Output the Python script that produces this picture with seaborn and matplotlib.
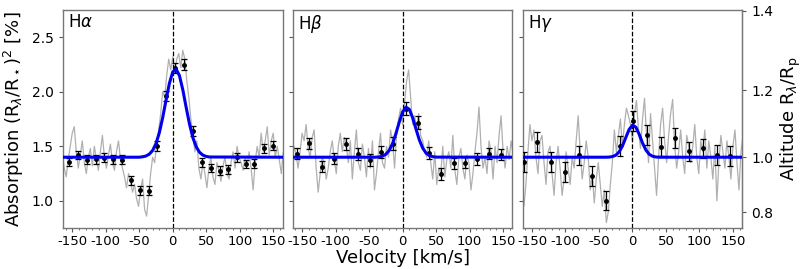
import numpy as np
import pandas as pd
import seaborn as sns
import matplotlib.pyplot as plt
from matplotlib.ticker import MultipleLocator

# ---- data ----
grid_v = np.arange(-165, 166, 3)  # velocity grid of the unbinned spectra

ha_gray = [1.45, 1.30, 1.22, 1.38, 1.50, 1.62,
           1.68, 1.45, 1.30, 1.42, 1.55, 1.35,
           1.25, 1.40, 1.48, 1.32, 1.50, 1.38,
           1.28, 1.45, 1.60, 1.40, 1.30, 1.42,
           1.52, 1.35, 1.28, 1.45, 1.55, 1.38,
           1.30, 1.22, 1.12, 1.25, 1.18, 1.08,
           1.15, 1.02, 0.95, 1.10, 1.20, 0.92,
           0.86, 1.05, 1.25, 1.40, 1.35, 1.52,
           1.65, 1.80, 2.00, 1.95, 2.15, 2.30,
           2.20, 2.32, 2.18, 2.30, 2.35, 2.22,
           2.38, 2.30, 2.10, 1.95, 1.75, 1.60,
           1.45, 1.55, 1.30, 1.20, 1.35, 1.25,
           1.12, 1.30, 1.40, 1.22, 1.15, 1.35,
           1.28, 1.18, 1.32, 1.40, 1.25, 1.20,
           1.35, 1.45, 1.30, 1.50, 1.40, 1.35,
           1.28, 1.40, 1.32, 1.45, 1.30, 1.10,
           1.35, 1.50, 1.40, 1.62, 1.45, 1.55,
           1.68, 1.42, 1.55, 1.62, 1.40, 1.50,
           1.38, 1.25, 1.45]

hb_gray = [1.35, 1.50, 1.42, 1.30, 1.45, 1.62,
           1.55, 1.70, 1.48, 1.40, 1.58, 1.65,
           1.30, 1.08, 1.25, 1.40, 1.35, 1.20,
           1.30, 1.45, 1.55, 1.38, 1.25, 1.50,
           1.62, 1.45, 1.58, 1.50, 1.35, 1.55,
           1.20, 1.45, 1.65, 1.35, 1.28, 1.52,
           1.40, 1.22, 1.48, 1.30, 1.55, 1.10,
           1.25, 1.45, 1.62, 1.35, 1.30, 1.50,
           1.40, 1.65, 1.55, 1.30, 1.60, 1.75,
           1.85, 1.70, 1.90, 2.10, 2.20, 1.95,
           1.70, 1.78, 1.65, 1.80, 1.60, 1.55,
           1.45, 1.40, 1.55, 1.35, 1.20, 1.45,
           1.15, 1.30, 1.25, 1.50, 1.22, 1.38,
           1.45, 1.30, 1.60, 1.28, 1.15, 1.40,
           1.48, 1.30, 1.20, 1.42, 1.35, 1.10,
           1.25, 1.45, 1.62, 1.86, 1.50, 1.30,
           1.40, 1.25, 1.55, 1.45, 1.20, 1.50,
           1.35, 1.60, 1.78, 1.45, 1.30, 1.50,
           1.38, 1.55, 1.42]

hg_gray = [1.30, 0.95, 1.15, 1.45, 1.70, 1.55,
           1.65, 1.40, 1.25, 1.55, 1.60, 1.35,
           1.15, 1.45, 1.50, 1.25, 1.05, 1.35,
           1.50, 1.30, 1.05, 1.20, 1.45, 1.30,
           1.15, 1.40, 1.30, 1.55, 1.78, 1.45,
           1.20, 1.35, 1.55, 1.40, 1.10, 1.25,
           0.98, 1.20, 1.35, 1.15, 0.95, 1.10,
           0.80, 0.90, 1.15, 1.35, 1.65, 1.45,
           1.60, 1.75, 1.50, 1.70, 1.85, 1.78,
           1.70, 1.55, 1.80, 1.92, 1.65, 1.48,
           1.75, 1.94, 1.60, 1.35, 1.80, 1.55,
           1.30, 1.05, 1.40, 1.70, 1.85, 1.55,
           1.35, 1.60, 1.80, 1.93, 1.50, 1.30,
           1.45, 1.65, 1.40, 1.25, 1.60, 1.50,
           1.35, 1.50, 1.70, 1.40, 1.25, 1.55,
           1.45, 1.65, 1.30, 1.55, 1.40, 1.20,
           1.50, 1.00, 1.35, 1.60, 1.45, 1.30,
           1.55, 1.40, 1.20, 1.50, 1.65, 1.35,
           1.10, 1.45, 1.60]

# binned points
ha_v = [-155, -142, -128, -115, -102, -88.5, -75.5, -62, -49, -36, -23, -10,
        4, 17, 30, 43, 56.6, 70, 83, 96, 109, 122, 135.5, 149]
ha_y = [1.355, 1.42, 1.376, 1.38, 1.395, 1.38, 1.376, 1.187, 1.095, 1.092, 1.50,
        1.958, 2.218, 2.246, 1.643, 1.352, 1.30, 1.275, 1.29, 1.40, 1.337, 1.34,
        1.48, 1.505]
ha_err = [0.04, 0.04, 0.04, 0.04, 0.04, 0.04, 0.04, 0.04, 0.04, 0.04, 0.045,
          0.045, 0.05, 0.05, 0.045, 0.04, 0.04, 0.04, 0.04, 0.04, 0.04, 0.04,
          0.04, 0.04]

hb_v = [-157, -139, -121, -103, -85, -67, -49, -31.5, -13.6, 4.4, 22.3, 40,
        58, 76, 93.6, 111.6, 129.5, 147.5]
hb_y = [1.434, 1.526, 1.312, 1.388, 1.523, 1.425, 1.379, 1.446, 1.523, 1.844,
        1.716, 1.44, 1.248, 1.343, 1.349, 1.385, 1.434, 1.422]
hb_err = [0.05, 0.05, 0.05, 0.05, 0.055, 0.055, 0.055, 0.055, 0.06, 0.06,
          0.06, 0.055, 0.055, 0.05, 0.05, 0.055, 0.05, 0.05]

hg_v = [-162, -142, -122, -101, -80, -60, -39, -19, 1.5, 22, 43, 63, 84, 105,
        125.5, 146]
hg_y = [1.355, 1.538, 1.355, 1.263, 1.416, 1.226, 1.003, 1.505, 1.731, 1.602,
        1.498, 1.575, 1.453, 1.48, 1.422, 1.41]
hg_err = [0.09, 0.09, 0.09, 0.09, 0.09, 0.09, 0.09, 0.09, 0.09, 0.09, 0.09,
          0.09, 0.09, 0.09, 0.09, 0.09]

# gaussian fits (blue)
ha_fit_v = [-165, -50, -45, -40, -35, -30, -25, -20, -15, -10, -5, 0, 5, 10,
            15, 20, 25, 30, 35, 40, 45, 50, 55, 165]
ha_fit_y = [1.40, 1.40, 1.404, 1.411, 1.428, 1.462, 1.525, 1.625, 1.763, 1.924,
            2.077, 2.182, 2.208, 2.148, 2.019, 1.858, 1.704, 1.580, 1.496,
            1.445, 1.419, 1.407, 1.402, 1.40]

hb_fit_v = [-165, -40, -35, -30, -25, -20, -15, -10, -5, 0, 5, 10, 15, 20, 25,
            30, 35, 40, 45, 50, 165]
hb_fit_y = [1.40, 1.40, 1.403, 1.410, 1.427, 1.462, 1.525, 1.616, 1.722, 1.814,
            1.859, 1.839, 1.762, 1.658, 1.558, 1.484, 1.438, 1.415, 1.405,
            1.401, 1.40]

hg_fit_v = [-165, -40, -35, -30, -25, -20, -15, -10, -5, 0, 5, 10, 15, 20, 25,
            30, 35, 40, 165]
hg_fit_y = [1.40, 1.40, 1.401, 1.406, 1.418, 1.448, 1.502, 1.579, 1.654, 1.694,
            1.676, 1.611, 1.531, 1.466, 1.427, 1.409, 1.402, 1.40, 1.40]

baseline = 1.40
lines = [
    ('H$\\alpha$', ha_gray, ha_v, ha_y, ha_err, ha_fit_v, ha_fit_y),
    ('H$\\beta$', hb_gray, hb_v, hb_y, hb_err, hb_fit_v, hb_fit_y),
    ('H$\\gamma$', hg_gray, hg_v, hg_y, hg_err, hg_fit_v, hg_fit_y),
]

sns.set_style('ticks')
plt.rcParams['font.family'] = ['DejaVu Sans']
plt.rcParams['mathtext.fontset'] = 'dejavusans'
plt.rcParams['axes.unicode_minus'] = False
plt.rcParams['text.color'] = 'black'
plt.rcParams['axes.labelcolor'] = 'black'

fig, axes = plt.subplots(1, 3, figsize=(8.06, 2.69), dpi=100, sharey=True)
fig.subplots_adjust(left=0.078, right=0.921, bottom=0.152, top=0.963, wspace=0.046)

for ax, (name, gray, pv, py, pe, fv, fy) in zip(axes, lines):
    spec = pd.DataFrame({'v': grid_v, 'a': gray})
    fit = pd.DataFrame({'v': fv, 'a': fy})
    sns.lineplot(x='v', y='a', data=spec, ax=ax, color='#b0b0b0', lw=0.9,
                 estimator=None, sort=False)
    ax.axvline(0, color='black', ls='--', lw=0.9)
    ax.errorbar(pv, py, yerr=pe, fmt='o', color='black', ms=2.5, lw=0.9,
                capsize=2, capthick=0.9, zorder=4)
    sns.lineplot(x='v', y='a', data=fit, ax=ax, color='#0000ee', lw=2.2,
                 estimator=None, sort=False, zorder=5)
    ax.set_xlim(-164, 164)
    ax.set_ylim(0.75, 2.75)
    ax.set_xlabel('')
    ax.set_ylabel('')
    ax.xaxis.set_major_locator(MultipleLocator(50))
    ax.xaxis.set_minor_locator(MultipleLocator(10))
    ax.yaxis.set_major_locator(MultipleLocator(0.5))
    ax.tick_params(labelsize=10, length=3, color='#555555', labelcolor='black')
    ax.tick_params(axis='x', pad=2, labelsize=9.5)
    ax.tick_params(which='minor', length=1.5, color='#555555')
    for s in ax.spines.values():
        s.set_color('#777777')
        s.set_linewidth(1.0)
    ax.text(0.025, 0.985, name, transform=ax.transAxes, ha='left', va='top',
            fontsize=12, color='black')

axes[0].set_ylabel('Absorption (R$_\\lambda$/R$_\\star$)$^2$ [%]', fontsize=13)
axes[1].set_xlabel('Velocity [km/s]', fontsize=13, labelpad=1)

sec = axes[2].secondary_yaxis(
    'right',
    functions=(lambda a: np.sqrt(np.clip(a, 1e-6, None) / baseline),
               lambda r: baseline * np.asarray(r) ** 2))
sec.set_yticks([0.8, 1.0, 1.2, 1.4])
sec.tick_params(labelsize=10, length=3, color='#555555', labelcolor='black')
sec.spines['right'].set_color('#777777')
sec.set_ylabel('Altitude R$_\\lambda$/R$_\\mathrm{p}$', fontsize=13)

fig.savefig('out.png')
